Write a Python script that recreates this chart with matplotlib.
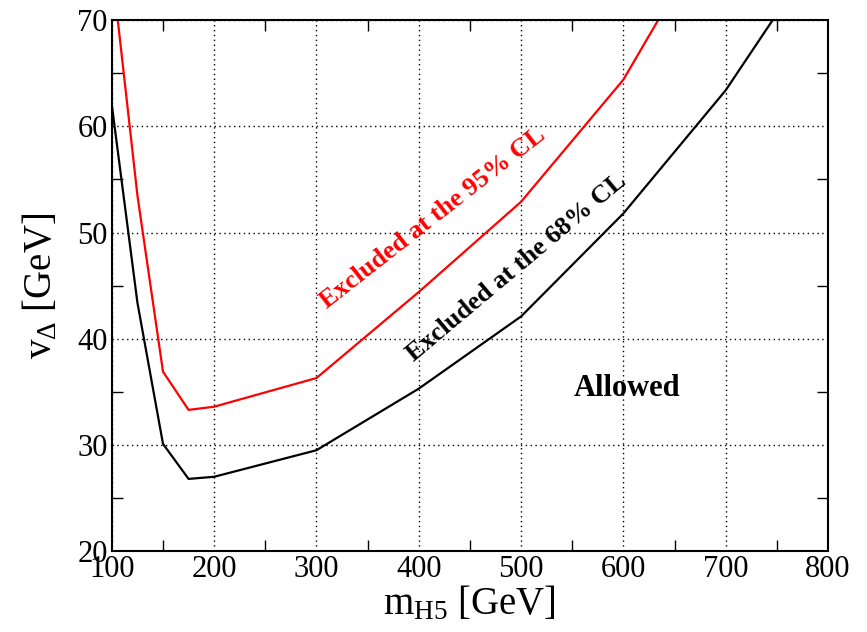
import matplotlib
matplotlib.use("Agg")
import matplotlib.pyplot as plt
from matplotlib.ticker import MultipleLocator

# exclusion contours, v_Delta [GeV] vs m_H5 [GeV]
m_h5 = [100, 125, 150, 175, 200, 300, 400, 500, 600, 700, 800]
v_68 = [62.0, 43.4, 30.1, 26.8, 27.0, 29.5, 35.3, 42.1, 51.8, 63.4, 77.8]
v_95 = [75.0, 53.5, 36.9, 33.3, 33.6, 36.3, 44.4, 52.9, 64.4, 80.9, 97.0]

plt.rcParams['font.family'] = ['Liberation Serif', 'DejaVu Serif']
plt.rcParams['mathtext.fontset'] = 'custom'
plt.rcParams['mathtext.rm'] = 'Liberation Serif'
plt.rcParams['mathtext.it'] = 'Liberation Serif'

fig = plt.figure(figsize=(8.67, 6.32), dpi=100)
ax = fig.add_axes([0.129, 0.128, 0.826, 0.840])

ax.plot(m_h5, v_68, color='black', lw=1.6)
ax.plot(m_h5, v_95, color='red', lw=1.6)

ax.set_xlim(100, 800)
ax.set_ylim(20, 70)
ax.xaxis.set_major_locator(MultipleLocator(100))
ax.xaxis.set_minor_locator(MultipleLocator(50))
ax.yaxis.set_major_locator(MultipleLocator(10))
ax.yaxis.set_minor_locator(MultipleLocator(5))

# grid replaces the major ticks, minor ticks are drawn inside on all sides
ax.grid(True, which='major', color='black', linestyle=(0, (1, 2.5)), lw=1.0)
ax.tick_params(which='major', length=0, labelsize=22, pad=3)
ax.tick_params(which='minor', direction='in', length=8, width=1.0,
               top=True, right=True)
for s in ax.spines.values():
    s.set_linewidth(1.5)

ax.set_xlabel(r'$\mathrm{m_{H5}}$ [GeV]', fontsize=28, labelpad=0)
ax.set_ylabel(r'$\mathrm{v_{\Delta}}$ [GeV]', fontsize=28, labelpad=12)

ax.text(414, 51.4, 'Excluded at the 95% CL', color='red', fontsize=19,
        fontweight='bold', rotation=38, ha='center', va='center')
ax.text(496, 46.7, 'Excluded at the 68% CL', color='black', fontsize=19,
        fontweight='bold', rotation=40, ha='center', va='center')
ax.text(604, 35.3, 'Allowed', color='black', fontsize=22,
        fontweight='bold', ha='center', va='center')

fig.savefig('out.png', dpi=100)
